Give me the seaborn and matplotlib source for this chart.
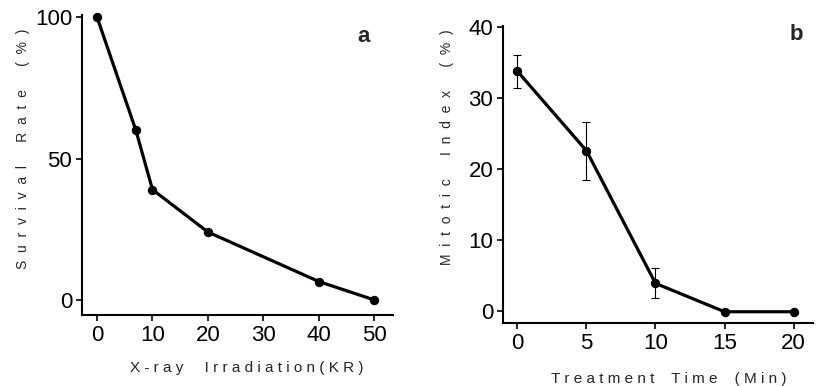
import numpy as np
import pandas as pd
import matplotlib
matplotlib.use('Agg')
import matplotlib.pyplot as plt
import seaborn as sns

# panel a: survival vs x-ray dose
dose_kr = [0, 7, 10, 20, 40, 50]
survival = [100, 60, 39, 24, 6.5, 0]

# panel b: mitotic index vs treatment time
time_min = [0, 5, 10, 15, 20]
mitotic = [33.8, 22.6, 3.9, -0.1, -0.1]
mitotic_err = [2.3, 4.1, 2.1, 0, 0]

sns.set_style('ticks')
plt.rcParams['font.family'] = ['Liberation Sans', 'DejaVu Sans']

fig = plt.figure(figsize=(8.17, 3.86), dpi=100)
ax1 = fig.add_axes([0.1004, 0.184, 0.381, 0.777])
ax2 = fig.add_axes([0.6157, 0.163, 0.3793, 0.770])


def spaced(*words, gap=5, sep=' '):
    return (' ' * gap).join(sep.join(w) for w in words)


df_a = pd.DataFrame({'dose': dose_kr, 'survival': survival})
sns.lineplot(data=df_a, x='dose', y='survival', ax=ax1, color='black',
             marker='o', markersize=6, linewidth=2.3, markeredgecolor='black',
             clip_on=False)
ax1.set_xlim(-2.7, 53.4)
ax1.set_ylim(-5.3, 100.7)
ax1.set_xticks([0, 10, 20, 30, 40, 50])
ax1.set_yticks([0, 50, 100])
ax1.set_xlabel(spaced('X-ray', 'Irradiation(KR)', gap=5), fontsize=11)
ax1.set_ylabel(spaced('Survival', 'Rate', '(%)', gap=6, sep='  '), fontsize=10)
ax1.xaxis.set_label_coords(0.53, -0.153)
ax1.yaxis.set_label_coords(-0.167, 0.553)
ax1.text(0.903, 0.93, 'a', transform=ax1.transAxes, fontsize=16, fontweight='bold',
         ha='center', va='center')

df_b = pd.DataFrame({'time': time_min, 'mi': mitotic})
sns.lineplot(data=df_b, x='time', y='mi', ax=ax2, color='black',
             marker='o', markersize=6, linewidth=2.3, markeredgecolor='black',
             clip_on=False)
ax2.errorbar(time_min[:3], mitotic[:3], yerr=mitotic_err[:3], fmt='none',
             ecolor='black', elinewidth=0.8, capsize=3, capthick=0.8)
ax2.set_xlim(-1.04, 21.4)
ax2.set_ylim(-1.7, 40.2)
ax2.set_xticks([0, 5, 10, 15, 20])
ax2.set_yticks([0, 10, 20, 30, 40])
ax2.set_xlabel(spaced('Treatment', 'Time', '(Min)', gap=4), fontsize=11)
ax2.set_ylabel(spaced('Mitotic', 'Index', '(%)', gap=6, sep='  '), fontsize=10)
ax2.xaxis.set_label_coords(0.535, -0.165)
ax2.yaxis.set_label_coords(-0.158, 0.591)
ax2.text(0.948, 0.97, 'b', transform=ax2.transAxes, fontsize=16, fontweight='bold',
         ha='center', va='center')

for ax in (ax1, ax2):
    sns.despine(ax=ax)
    for side in ('left', 'bottom'):
        ax.spines[side].set_linewidth(1.5)
        ax.spines[side].set_color('black')
    ax.tick_params(axis='both', labelsize=16, length=4, width=1.2, color='black',
                   labelcolor='black', pad=3)

fig.savefig('out.png', dpi=100)
